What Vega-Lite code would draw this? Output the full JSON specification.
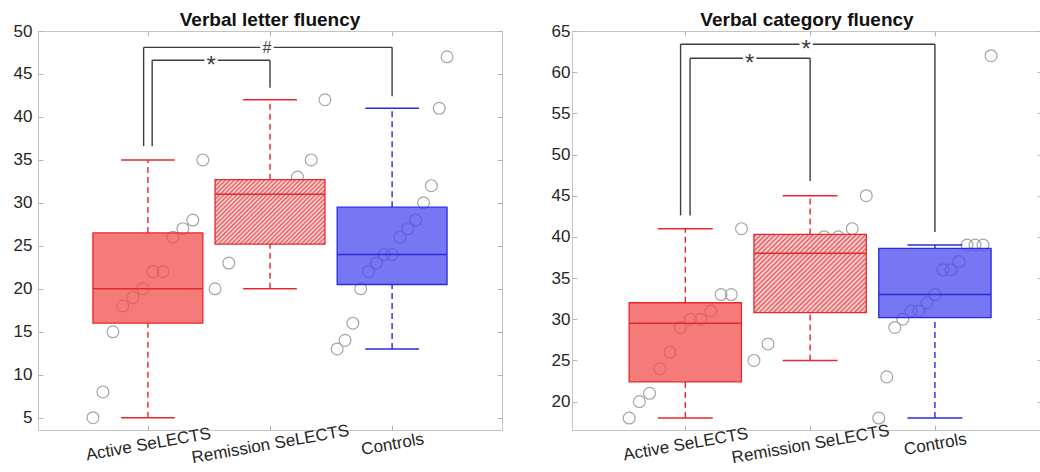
{
  "$schema": "https://vega.github.io/schema/vega-lite/v6.json",
  "background": "white",
  "padding": {"left": 12, "top": 10, "right": 0, "bottom": 0},
  "spacing": 47,
  "config": {
    "font": "Liberation Sans",
    "view": {"stroke": "#c4c4c4", "strokeWidth": 1},
    "axis": {"grid": false, "domain": false, "tickColor": "#b5b5b5", "tickSize": -5, "tickWidth": 1, "labelFont": "Liberation Sans", "labelFontSize": 17, "labelColor": "#262626", "title": null, "labelOverlap": false, "labelFlush": false},
    "title": {"font": "Liberation Sans", "fontSize": 19, "fontWeight": "bold", "color": "#111111", "offset": -8, "frame": "group", "baseline": "alphabetic"}
  },
  "datasets": {
    "pts": [
      {"p":"L","g":"A","v":5},{"p":"L","g":"A","v":8},{"p":"L","g":"A","v":15},{"p":"L","g":"A","v":18},{"p":"L","g":"A","v":19},{"p":"L","g":"A","v":20},{"p":"L","g":"A","v":22},{"p":"L","g":"A","v":22},{"p":"L","g":"A","v":26},{"p":"L","g":"A","v":27},{"p":"L","g":"A","v":28},{"p":"L","g":"A","v":35},
      {"p":"L","g":"R","v":20},{"p":"L","g":"R","v":23},{"p":"L","g":"R","v":26},{"p":"L","g":"R","v":29},{"p":"L","g":"R","v":31},{"p":"L","g":"R","v":31},{"p":"L","g":"R","v":33},{"p":"L","g":"R","v":35},{"p":"L","g":"R","v":42},
      {"p":"L","g":"C","v":13},{"p":"L","g":"C","v":14},{"p":"L","g":"C","v":16},{"p":"L","g":"C","v":20},{"p":"L","g":"C","v":22},{"p":"L","g":"C","v":23},{"p":"L","g":"C","v":24},{"p":"L","g":"C","v":24},{"p":"L","g":"C","v":26},{"p":"L","g":"C","v":27},{"p":"L","g":"C","v":28},{"p":"L","g":"C","v":30},{"p":"L","g":"C","v":32},{"p":"L","g":"C","v":41},{"p":"L","g":"C","v":47},
      {"p":"R","g":"A","v":18},{"p":"R","g":"A","v":20},{"p":"R","g":"A","v":21},{"p":"R","g":"A","v":24},{"p":"R","g":"A","v":26},{"p":"R","g":"A","v":29},{"p":"R","g":"A","v":30},{"p":"R","g":"A","v":30},{"p":"R","g":"A","v":31},{"p":"R","g":"A","v":33},{"p":"R","g":"A","v":33},{"p":"R","g":"A","v":41},
      {"p":"R","g":"R","v":25},{"p":"R","g":"R","v":27},{"p":"R","g":"R","v":32},{"p":"R","g":"R","v":36},{"p":"R","g":"R","v":38},{"p":"R","g":"R","v":40},{"p":"R","g":"R","v":40},{"p":"R","g":"R","v":41},{"p":"R","g":"R","v":45},
      {"p":"R","g":"C","v":18},{"p":"R","g":"C","v":23},{"p":"R","g":"C","v":29},{"p":"R","g":"C","v":30},{"p":"R","g":"C","v":31},{"p":"R","g":"C","v":31},{"p":"R","g":"C","v":32},{"p":"R","g":"C","v":33},{"p":"R","g":"C","v":36},{"p":"R","g":"C","v":36},{"p":"R","g":"C","v":37},{"p":"R","g":"C","v":39},{"p":"R","g":"C","v":39},{"p":"R","g":"C","v":39},{"p":"R","g":"C","v":62}
    ],
    "box": [
      {"p":"L","g":"A","lo":5,"q1":16,"med":20,"q3":26.5,"hi":35},
      {"p":"L","g":"R","lo":20,"q1":25.2,"med":31,"q3":32.7,"hi":42},
      {"p":"L","g":"C","lo":13,"q1":20.5,"med":24,"q3":29.5,"hi":41},
      {"p":"R","g":"A","lo":18,"q1":22.4,"med":29.5,"q3":32,"hi":41},
      {"p":"R","g":"R","lo":25,"q1":30.8,"med":38,"q3":40.3,"hi":45},
      {"p":"R","g":"C","lo":18,"q1":30.2,"med":33,"q3":38.6,"hi":39}
    ],
    "brk": [
      {"p":"L","x":1.035,"x2":1.035,"y":36.6,"y2":46.6},
      {"p":"L","x":1.035,"x2":2,"y":46.6,"y2":46.6},
      {"p":"L","x":2,"x2":2,"y":43.4,"y2":46.6},
      {"p":"L","x":0.965,"x2":0.965,"y":36.6,"y2":48.1},
      {"p":"L","x":0.965,"x2":3,"y":48.1,"y2":48.1},
      {"p":"L","x":3,"x2":3,"y":42.4,"y2":48.1},
      {"p":"R","x":1.038,"x2":1.038,"y":42.6,"y2":61.7},
      {"p":"R","x":1.038,"x2":2,"y":61.7,"y2":61.7},
      {"p":"R","x":2,"x2":2,"y":46.8,"y2":61.7},
      {"p":"R","x":0.962,"x2":0.962,"y":42.6,"y2":63.4},
      {"p":"R","x":0.962,"x2":3,"y":63.4,"y2":63.4},
      {"p":"R","x":3,"x2":3,"y":40.6,"y2":63.4}
    ],
    "lab": [
      {"p":"L","x":1.518,"y":46.6,"t":"*"},
      {"p":"L","x":1.975,"y":48.1,"t":"#"},
      {"p":"R","x":1.515,"y":61.7,"t":"*"},
      {"p":"R","x":1.968,"y":63.4,"t":"*"}
    ]
  },
  "hconcat": [
    {
      "width": 464, "height": 399,
      "title": {"text": "Verbal letter fluency"},
      "resolve": {"axis": {"x": "independent", "y": "independent"}},
      "layer": [
        {
          "data": {"name": "pts"},
          "transform": [
            {"filter": "datum.p=='L'"},
            {"calculate": "datum.g=='A'?1:datum.g=='R'?2:3", "as": "gi"},
            {"window": [{"op": "row_number", "as": "r"}, {"op": "count", "as": "n"}], "groupby": ["g"], "sort": [{"field": "v", "order": "ascending"}], "frame": [null, null]},
            {"calculate": "datum.gi-0.45+0.9*(datum.r-1)/(datum.n-1)", "as": "x"}
          ],
          "mark": {"type": "point", "shape": "circle", "filled": false, "size": 140, "color": "#a5a5a5", "strokeWidth": 1.2, "opacity": 1},
          "encoding": {
            "x": {"field": "x", "type": "quantitative", "title": null, "scale": {"domain": [0.1, 3.9], "nice": false, "zero": false},
                  "axis": {"title": null, "values": [1, 2, 3], "labelExpr": "datum.value==1?'Active SeLECTS':datum.value==2?'Remission SeLECTS':'Controls'", "labelAngle": -10, "labelAlign": "center", "labelBaseline": "middle", "labelPadding": 19}},
            "y": {"field": "v", "type": "quantitative", "title": null, "scale": {"domain": [3.57, 50], "nice": false, "zero": false},
                  "axis": {"title": null, "values": [5, 10, 15, 20, 25, 30, 35, 40, 45, 50], "labelPadding": 11}}
          }
        },
        {
          "data": {"name": "box"},
          "transform": [{"filter": "datum.p=='L'"}, {"calculate": "datum.g=='A'?1:datum.g=='R'?2:3", "as": "gi"}],
          "mark": {"type": "rule", "strokeDash": [6, 4], "strokeWidth": 1.4},
          "encoding": {
            "x": {"field": "gi", "type": "quantitative", "axis": null},
            "y": {"field": "q3", "type": "quantitative", "axis": null},
            "y2": {"field": "hi"},
            "color": {"field": "g", "type": "nominal", "scale": {"domain": ["A", "R", "C"], "range": ["#e8262d", "#e8262d", "#2b2bdc"]}, "legend": null}
          }
        },
        {
          "data": {"name": "box"},
          "transform": [{"filter": "datum.p=='L'"}, {"calculate": "datum.g=='A'?1:datum.g=='R'?2:3", "as": "gi"}],
          "mark": {"type": "rule", "strokeDash": [6, 4], "strokeWidth": 1.4},
          "encoding": {
            "x": {"field": "gi", "type": "quantitative", "axis": null},
            "y": {"field": "lo", "type": "quantitative", "axis": null},
            "y2": {"field": "q1"},
            "color": {"field": "g", "type": "nominal", "scale": {"domain": ["A", "R", "C"], "range": ["#e8262d", "#e8262d", "#2b2bdc"]}, "legend": null}
          }
        },
        {
          "data": {"name": "box"},
          "transform": [{"filter": "datum.p=='L'"}, {"calculate": "datum.g=='A'?1:datum.g=='R'?2:3", "as": "gi"}, {"calculate": "datum.gi-0.22", "as": "c1"}, {"calculate": "datum.gi+0.22", "as": "c2"}, {"fold": ["lo", "hi"], "as": ["k", "w"]}],
          "mark": {"type": "rule", "strokeWidth": 1.5},
          "encoding": {
            "x": {"field": "c1", "type": "quantitative", "axis": null},
            "x2": {"field": "c2"},
            "y": {"field": "w", "type": "quantitative", "axis": null},
            "color": {"field": "g", "type": "nominal", "scale": {"domain": ["A", "R", "C"], "range": ["#e8262d", "#e8262d", "#2b2bdc"]}, "legend": null}
          }
        },
        {
          "data": {"name": "box"},
          "transform": [{"filter": "datum.p=='L' && datum.g!='R'"}, {"calculate": "datum.g=='A'?1:datum.g=='R'?2:3", "as": "gi"}, {"calculate": "datum.gi-0.45", "as": "b1"}, {"calculate": "datum.gi+0.45", "as": "b2"}],
          "mark": {"type": "rect", "fillOpacity": 0.75, "strokeWidth": 1.3},
          "encoding": {
            "x": {"field": "b1", "type": "quantitative", "axis": null},
            "x2": {"field": "b2"},
            "y": {"field": "q1", "type": "quantitative", "axis": null},
            "y2": {"field": "q3"},
            "fill": {"field": "g", "type": "nominal", "scale": {"domain": ["A", "R", "C"], "range": ["#f24f4f", "#f24f4f", "#4a4af0"]}, "legend": null},
            "stroke": {"field": "g", "type": "nominal", "scale": {"domain": ["A", "R", "C"], "range": ["#e8262d", "#e8262d", "#2b2bdc"]}, "legend": null}
          }
        },
        {
          "data": {"name": "box"},
          "transform": [{"filter": "datum.p=='L' && datum.g=='R'"}, {"calculate": "1.55", "as": "b1"}, {"calculate": "2.45", "as": "b2"}],
          "mark": {"type": "rect", "stroke": "#e8262d", "strokeWidth": 1.3, "fillOpacity": 0.92,
            "fill": {"gradient": "linear", "x1": 0, "y1": 0, "x2": 1.181, "y2": 0.692, "stops": [
              {"offset":0,"color":"#fde6e3"},{"offset":0.0125,"color":"#e8474c"},{"offset":0.025,"color":"#fde6e3"},{"offset":0.0375,"color":"#e8474c"},{"offset":0.05,"color":"#fde6e3"},{"offset":0.0625,"color":"#e8474c"},{"offset":0.075,"color":"#fde6e3"},{"offset":0.0875,"color":"#e8474c"},{"offset":0.1,"color":"#fde6e3"},{"offset":0.1125,"color":"#e8474c"},
              {"offset":0.125,"color":"#fde6e3"},{"offset":0.1375,"color":"#e8474c"},{"offset":0.15,"color":"#fde6e3"},{"offset":0.1625,"color":"#e8474c"},{"offset":0.175,"color":"#fde6e3"},{"offset":0.1875,"color":"#e8474c"},{"offset":0.2,"color":"#fde6e3"},{"offset":0.2125,"color":"#e8474c"},{"offset":0.225,"color":"#fde6e3"},{"offset":0.2375,"color":"#e8474c"},
              {"offset":0.25,"color":"#fde6e3"},{"offset":0.2625,"color":"#e8474c"},{"offset":0.275,"color":"#fde6e3"},{"offset":0.2875,"color":"#e8474c"},{"offset":0.3,"color":"#fde6e3"},{"offset":0.3125,"color":"#e8474c"},{"offset":0.325,"color":"#fde6e3"},{"offset":0.3375,"color":"#e8474c"},{"offset":0.35,"color":"#fde6e3"},{"offset":0.3625,"color":"#e8474c"},
              {"offset":0.375,"color":"#fde6e3"},{"offset":0.3875,"color":"#e8474c"},{"offset":0.4,"color":"#fde6e3"},{"offset":0.4125,"color":"#e8474c"},{"offset":0.425,"color":"#fde6e3"},{"offset":0.4375,"color":"#e8474c"},{"offset":0.45,"color":"#fde6e3"},{"offset":0.4625,"color":"#e8474c"},{"offset":0.475,"color":"#fde6e3"},{"offset":0.4875,"color":"#e8474c"},
              {"offset":0.5,"color":"#fde6e3"},{"offset":0.5125,"color":"#e8474c"},{"offset":0.525,"color":"#fde6e3"},{"offset":0.5375,"color":"#e8474c"},{"offset":0.55,"color":"#fde6e3"},{"offset":0.5625,"color":"#e8474c"},{"offset":0.575,"color":"#fde6e3"},{"offset":0.5875,"color":"#e8474c"},{"offset":0.6,"color":"#fde6e3"},{"offset":0.6125,"color":"#e8474c"},
              {"offset":0.625,"color":"#fde6e3"},{"offset":0.6375,"color":"#e8474c"},{"offset":0.65,"color":"#fde6e3"},{"offset":0.6625,"color":"#e8474c"},{"offset":0.675,"color":"#fde6e3"},{"offset":0.6875,"color":"#e8474c"},{"offset":0.7,"color":"#fde6e3"},{"offset":0.7125,"color":"#e8474c"},{"offset":0.725,"color":"#fde6e3"},{"offset":0.7375,"color":"#e8474c"},
              {"offset":0.75,"color":"#fde6e3"},{"offset":0.7625,"color":"#e8474c"},{"offset":0.775,"color":"#fde6e3"},{"offset":0.7875,"color":"#e8474c"},{"offset":0.8,"color":"#fde6e3"},{"offset":0.8125,"color":"#e8474c"},{"offset":0.825,"color":"#fde6e3"},{"offset":0.8375,"color":"#e8474c"},{"offset":0.85,"color":"#fde6e3"},{"offset":0.8625,"color":"#e8474c"},
              {"offset":0.875,"color":"#fde6e3"},{"offset":0.8875,"color":"#e8474c"},{"offset":0.9,"color":"#fde6e3"},{"offset":0.9125,"color":"#e8474c"},{"offset":0.925,"color":"#fde6e3"},{"offset":0.9375,"color":"#e8474c"},{"offset":0.95,"color":"#fde6e3"},{"offset":0.9625,"color":"#e8474c"},{"offset":0.975,"color":"#fde6e3"},{"offset":0.9875,"color":"#e8474c"},{"offset":1,"color":"#fde6e3"}
            ]}},
          "encoding": {
            "x": {"field": "b1", "type": "quantitative", "axis": null},
            "x2": {"field": "b2"},
            "y": {"field": "q1", "type": "quantitative", "axis": null},
            "y2": {"field": "q3"}
          }
        },
        {
          "data": {"name": "box"},
          "transform": [{"filter": "datum.p=='L'"}, {"calculate": "datum.g=='A'?1:datum.g=='R'?2:3", "as": "gi"}, {"calculate": "datum.gi-0.45", "as": "b1"}, {"calculate": "datum.gi+0.45", "as": "b2"}],
          "mark": {"type": "rule", "strokeWidth": 1.5},
          "encoding": {
            "x": {"field": "b1", "type": "quantitative", "axis": null},
            "x2": {"field": "b2"},
            "y": {"field": "med", "type": "quantitative", "axis": null},
            "color": {"field": "g", "type": "nominal", "scale": {"domain": ["A", "R", "C"], "range": ["#e8262d", "#e8262d", "#2b2bdc"]}, "legend": null}
          }
        },
        {
          "data": {"name": "brk"},
          "transform": [{"filter": "datum.p=='L'"}],
          "mark": {"type": "rule", "color": "#3d3d3d", "strokeWidth": 1.4},
          "encoding": {
            "x": {"field": "x", "type": "quantitative", "axis": {"orient": "top", "values": [1, 2, 3], "labels": false, "title": null}},
            "x2": {"field": "x2"},
            "y": {"field": "y", "type": "quantitative", "axis": {"orient": "right", "values": [5, 10, 15, 20, 25, 30, 35, 40, 45, 50], "labels": false, "title": null}},
            "y2": {"field": "y2"}
          }
        },
        {
          "data": {"name": "lab"},
          "transform": [{"filter": "datum.p=='L'"}],
          "mark": {"type": "point", "shape": "square", "filled": true, "color": "white", "size": 180, "opacity": 1, "strokeWidth": 0},
          "encoding": {
            "x": {"field": "x", "type": "quantitative", "axis": null},
            "y": {"field": "y", "type": "quantitative", "axis": null}
          }
        },
        {
          "data": {"name": "lab"},
          "transform": [{"filter": "datum.p=='L' && datum.t=='*'"}],
          "mark": {"type": "text", "fontSize": 24, "color": "#3d3d3d", "baseline": "middle", "align": "center", "dy": 6},
          "encoding": {
            "x": {"field": "x", "type": "quantitative", "axis": null},
            "y": {"field": "y", "type": "quantitative", "axis": null},
            "text": {"field": "t"}
          }
        },
        {
          "data": {"name": "lab"},
          "transform": [{"filter": "datum.p=='L' && datum.t=='#'"}],
          "mark": {"type": "text", "fontSize": 16, "color": "#3d3d3d", "baseline": "middle", "align": "center", "dy": 1},
          "encoding": {
            "x": {"field": "x", "type": "quantitative", "axis": null},
            "y": {"field": "y", "type": "quantitative", "axis": null},
            "text": {"field": "t"}
          }
        }
      ]
    },
    {
      "width": 470, "height": 399,
      "title": {"text": "Verbal category fluency"},
      "resolve": {"axis": {"x": "independent", "y": "independent"}},
      "layer": [
        {
          "data": {"name": "pts"},
          "transform": [
            {"filter": "datum.p=='R'"},
            {"calculate": "datum.g=='A'?1:datum.g=='R'?2:3", "as": "gi"},
            {"window": [{"op": "row_number", "as": "r"}, {"op": "count", "as": "n"}], "groupby": ["g"], "sort": [{"field": "v", "order": "ascending"}], "frame": [null, null]},
            {"calculate": "datum.gi-0.45+0.9*(datum.r-1)/(datum.n-1)", "as": "x"}
          ],
          "mark": {"type": "point", "shape": "circle", "filled": false, "size": 140, "color": "#a5a5a5", "strokeWidth": 1.2, "opacity": 1},
          "encoding": {
            "x": {"field": "x", "type": "quantitative", "title": null, "scale": {"domain": [0.092, 3.858], "nice": false, "zero": false},
                  "axis": {"title": null, "values": [1, 2, 3], "labelExpr": "datum.value==1?'Active SeLECTS':datum.value==2?'Remission SeLECTS':'Controls'", "labelAngle": -10, "labelAlign": "center", "labelBaseline": "middle", "labelPadding": 19}},
            "y": {"field": "v", "type": "quantitative", "title": null, "scale": {"domain": [16.55, 65], "nice": false, "zero": false},
                  "axis": {"title": null, "values": [20, 25, 30, 35, 40, 45, 50, 55, 60, 65], "labelPadding": 7}}
          }
        },
        {
          "data": {"name": "box"},
          "transform": [{"filter": "datum.p=='R'"}, {"calculate": "datum.g=='A'?1:datum.g=='R'?2:3", "as": "gi"}],
          "mark": {"type": "rule", "strokeDash": [6, 4], "strokeWidth": 1.4},
          "encoding": {
            "x": {"field": "gi", "type": "quantitative", "axis": null},
            "y": {"field": "q3", "type": "quantitative", "axis": null},
            "y2": {"field": "hi"},
            "color": {"field": "g", "type": "nominal", "scale": {"domain": ["A", "R", "C"], "range": ["#e8262d", "#e8262d", "#2b2bdc"]}, "legend": null}
          }
        },
        {
          "data": {"name": "box"},
          "transform": [{"filter": "datum.p=='R'"}, {"calculate": "datum.g=='A'?1:datum.g=='R'?2:3", "as": "gi"}],
          "mark": {"type": "rule", "strokeDash": [6, 4], "strokeWidth": 1.4},
          "encoding": {
            "x": {"field": "gi", "type": "quantitative", "axis": null},
            "y": {"field": "lo", "type": "quantitative", "axis": null},
            "y2": {"field": "q1"},
            "color": {"field": "g", "type": "nominal", "scale": {"domain": ["A", "R", "C"], "range": ["#e8262d", "#e8262d", "#2b2bdc"]}, "legend": null}
          }
        },
        {
          "data": {"name": "box"},
          "transform": [{"filter": "datum.p=='R'"}, {"calculate": "datum.g=='A'?1:datum.g=='R'?2:3", "as": "gi"}, {"calculate": "datum.gi-0.22", "as": "c1"}, {"calculate": "datum.gi+0.22", "as": "c2"}, {"fold": ["lo", "hi"], "as": ["k", "w"]}],
          "mark": {"type": "rule", "strokeWidth": 1.5},
          "encoding": {
            "x": {"field": "c1", "type": "quantitative", "axis": null},
            "x2": {"field": "c2"},
            "y": {"field": "w", "type": "quantitative", "axis": null},
            "color": {"field": "g", "type": "nominal", "scale": {"domain": ["A", "R", "C"], "range": ["#e8262d", "#e8262d", "#2b2bdc"]}, "legend": null}
          }
        },
        {
          "data": {"name": "box"},
          "transform": [{"filter": "datum.p=='R' && datum.g!='R'"}, {"calculate": "datum.g=='A'?1:datum.g=='R'?2:3", "as": "gi"}, {"calculate": "datum.gi-0.45", "as": "b1"}, {"calculate": "datum.gi+0.45", "as": "b2"}],
          "mark": {"type": "rect", "fillOpacity": 0.75, "strokeWidth": 1.3},
          "encoding": {
            "x": {"field": "b1", "type": "quantitative", "axis": null},
            "x2": {"field": "b2"},
            "y": {"field": "q1", "type": "quantitative", "axis": null},
            "y2": {"field": "q3"},
            "fill": {"field": "g", "type": "nominal", "scale": {"domain": ["A", "R", "C"], "range": ["#f24f4f", "#f24f4f", "#4a4af0"]}, "legend": null},
            "stroke": {"field": "g", "type": "nominal", "scale": {"domain": ["A", "R", "C"], "range": ["#e8262d", "#e8262d", "#2b2bdc"]}, "legend": null}
          }
        },
        {
          "data": {"name": "box"},
          "transform": [{"filter": "datum.p=='R' && datum.g=='R'"}, {"calculate": "1.55", "as": "b1"}, {"calculate": "2.45", "as": "b2"}],
          "mark": {"type": "rect", "stroke": "#e8262d", "strokeWidth": 1.3, "fillOpacity": 0.92,
            "fill": {"gradient": "linear", "x1": 0, "y1": 0, "x2": 1.142, "y2": 0.796, "stops": [
              {"offset":0,"color":"#fde6e3"},{"offset":0.0125,"color":"#e8474c"},{"offset":0.025,"color":"#fde6e3"},{"offset":0.0375,"color":"#e8474c"},{"offset":0.05,"color":"#fde6e3"},{"offset":0.0625,"color":"#e8474c"},{"offset":0.075,"color":"#fde6e3"},{"offset":0.0875,"color":"#e8474c"},{"offset":0.1,"color":"#fde6e3"},{"offset":0.1125,"color":"#e8474c"},
              {"offset":0.125,"color":"#fde6e3"},{"offset":0.1375,"color":"#e8474c"},{"offset":0.15,"color":"#fde6e3"},{"offset":0.1625,"color":"#e8474c"},{"offset":0.175,"color":"#fde6e3"},{"offset":0.1875,"color":"#e8474c"},{"offset":0.2,"color":"#fde6e3"},{"offset":0.2125,"color":"#e8474c"},{"offset":0.225,"color":"#fde6e3"},{"offset":0.2375,"color":"#e8474c"},
              {"offset":0.25,"color":"#fde6e3"},{"offset":0.2625,"color":"#e8474c"},{"offset":0.275,"color":"#fde6e3"},{"offset":0.2875,"color":"#e8474c"},{"offset":0.3,"color":"#fde6e3"},{"offset":0.3125,"color":"#e8474c"},{"offset":0.325,"color":"#fde6e3"},{"offset":0.3375,"color":"#e8474c"},{"offset":0.35,"color":"#fde6e3"},{"offset":0.3625,"color":"#e8474c"},
              {"offset":0.375,"color":"#fde6e3"},{"offset":0.3875,"color":"#e8474c"},{"offset":0.4,"color":"#fde6e3"},{"offset":0.4125,"color":"#e8474c"},{"offset":0.425,"color":"#fde6e3"},{"offset":0.4375,"color":"#e8474c"},{"offset":0.45,"color":"#fde6e3"},{"offset":0.4625,"color":"#e8474c"},{"offset":0.475,"color":"#fde6e3"},{"offset":0.4875,"color":"#e8474c"},
              {"offset":0.5,"color":"#fde6e3"},{"offset":0.5125,"color":"#e8474c"},{"offset":0.525,"color":"#fde6e3"},{"offset":0.5375,"color":"#e8474c"},{"offset":0.55,"color":"#fde6e3"},{"offset":0.5625,"color":"#e8474c"},{"offset":0.575,"color":"#fde6e3"},{"offset":0.5875,"color":"#e8474c"},{"offset":0.6,"color":"#fde6e3"},{"offset":0.6125,"color":"#e8474c"},
              {"offset":0.625,"color":"#fde6e3"},{"offset":0.6375,"color":"#e8474c"},{"offset":0.65,"color":"#fde6e3"},{"offset":0.6625,"color":"#e8474c"},{"offset":0.675,"color":"#fde6e3"},{"offset":0.6875,"color":"#e8474c"},{"offset":0.7,"color":"#fde6e3"},{"offset":0.7125,"color":"#e8474c"},{"offset":0.725,"color":"#fde6e3"},{"offset":0.7375,"color":"#e8474c"},
              {"offset":0.75,"color":"#fde6e3"},{"offset":0.7625,"color":"#e8474c"},{"offset":0.775,"color":"#fde6e3"},{"offset":0.7875,"color":"#e8474c"},{"offset":0.8,"color":"#fde6e3"},{"offset":0.8125,"color":"#e8474c"},{"offset":0.825,"color":"#fde6e3"},{"offset":0.8375,"color":"#e8474c"},{"offset":0.85,"color":"#fde6e3"},{"offset":0.8625,"color":"#e8474c"},
              {"offset":0.875,"color":"#fde6e3"},{"offset":0.8875,"color":"#e8474c"},{"offset":0.9,"color":"#fde6e3"},{"offset":0.9125,"color":"#e8474c"},{"offset":0.925,"color":"#fde6e3"},{"offset":0.9375,"color":"#e8474c"},{"offset":0.95,"color":"#fde6e3"},{"offset":0.9625,"color":"#e8474c"},{"offset":0.975,"color":"#fde6e3"},{"offset":0.9875,"color":"#e8474c"},{"offset":1,"color":"#fde6e3"}
            ]}},
          "encoding": {
            "x": {"field": "b1", "type": "quantitative", "axis": null},
            "x2": {"field": "b2"},
            "y": {"field": "q1", "type": "quantitative", "axis": null},
            "y2": {"field": "q3"}
          }
        },
        {
          "data": {"name": "box"},
          "transform": [{"filter": "datum.p=='R'"}, {"calculate": "datum.g=='A'?1:datum.g=='R'?2:3", "as": "gi"}, {"calculate": "datum.gi-0.45", "as": "b1"}, {"calculate": "datum.gi+0.45", "as": "b2"}],
          "mark": {"type": "rule", "strokeWidth": 1.5},
          "encoding": {
            "x": {"field": "b1", "type": "quantitative", "axis": null},
            "x2": {"field": "b2"},
            "y": {"field": "med", "type": "quantitative", "axis": null},
            "color": {"field": "g", "type": "nominal", "scale": {"domain": ["A", "R", "C"], "range": ["#e8262d", "#e8262d", "#2b2bdc"]}, "legend": null}
          }
        },
        {
          "data": {"name": "brk"},
          "transform": [{"filter": "datum.p=='R'"}],
          "mark": {"type": "rule", "color": "#3d3d3d", "strokeWidth": 1.4},
          "encoding": {
            "x": {"field": "x", "type": "quantitative", "axis": {"orient": "top", "values": [1, 2, 3], "labels": false, "title": null}},
            "x2": {"field": "x2"},
            "y": {"field": "y", "type": "quantitative", "axis": {"orient": "right", "values": [20, 25, 30, 35, 40, 45, 50, 55, 60, 65], "labels": false, "title": null}},
            "y2": {"field": "y2"}
          }
        },
        {
          "data": {"name": "lab"},
          "transform": [{"filter": "datum.p=='R'"}],
          "mark": {"type": "point", "shape": "square", "filled": true, "color": "white", "size": 180, "opacity": 1, "strokeWidth": 0},
          "encoding": {
            "x": {"field": "x", "type": "quantitative", "axis": null},
            "y": {"field": "y", "type": "quantitative", "axis": null}
          }
        },
        {
          "data": {"name": "lab"},
          "transform": [{"filter": "datum.p=='R' && datum.t=='*'"}],
          "mark": {"type": "text", "fontSize": 24, "color": "#3d3d3d", "baseline": "middle", "align": "center", "dy": 6},
          "encoding": {
            "x": {"field": "x", "type": "quantitative", "axis": null},
            "y": {"field": "y", "type": "quantitative", "axis": null},
            "text": {"field": "t"}
          }
        }
      ]
    }
  ]
}
